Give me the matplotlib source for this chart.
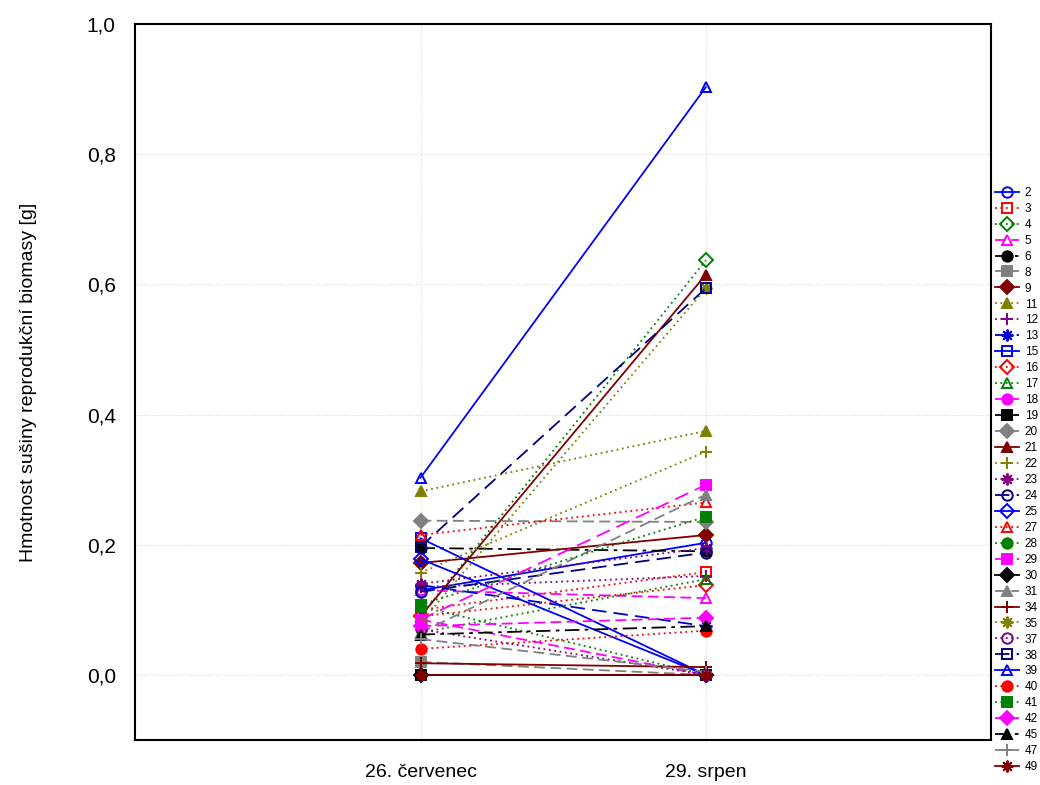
import matplotlib
matplotlib.use("Agg")
import matplotlib.pyplot as plt
from matplotlib.ticker import FuncFormatter

plt.rcParams['font.family'] = ['Liberation Sans', 'DejaVu Sans']

# ---- data ----
dates = ["26. červenec", "29. srpen"]
series_ids = ["2", "3", "4", "5", "6", "8", "9", "11", "12", "13", "15", "16", "17",
              "18", "19", "20", "21", "22", "23", "24", "25", "27", "28", "29", "30",
              "31", "34", "35", "37", "38", "39", "40", "41", "42", "45", "47", "49"]
val_jul = [0.130, 0.100, 0.090, 0.130, 0.195, 0.020, 0.172, 0.282, 0.135, 0.138,
           0.210, 0.090, 0.065, 0.085, 0.000, 0.237, 0.090, 0.157, 0.140, 0.128,
           0.178, 0.215, 0.105, 0.085, 0.000, 0.065, 0.018, 0.080, 0.070, 0.197,
           0.303, 0.040, 0.108, 0.075, 0.062, 0.055, 0.000]
val_aug = [0.203, 0.158, 0.637, 0.118, 0.190, 0.000, 0.215, 0.375, 0.152, 0.075,
           0.000, 0.138, 0.147, 0.000, 0.000, 0.235, 0.615, 0.343, 0.195, 0.188,
           0.000, 0.265, 0.000, 0.292, 0.000, 0.277, 0.012, 0.594, 0.000, 0.594,
           0.903, 0.068, 0.243, 0.088, 0.075, 0.005, 0.000]

# ---- styles (per series) ----
BLUE, RED, GREEN, MAG = '#0000FF', '#FF0000', '#008000', '#FF00FF'
BLK, GRAY, DRED, OLIVE = '#000000', '#808080', '#800000', '#808000'
PURP, NAVY, MBLUE = '#800080', '#000080', '#0000CD'
AST = (8, 2, 0)
DOT = (0, (1, 2))
DASH = (0, (6, 3))
LDASH = (0, (8, 4))
DDOT = (0, (8, 3, 2, 3))
SOLID = '-'
styles = {
    "2": (BLUE, 'o', False, SOLID), "3": (RED, 's', False, DOT),
    "4": (GREEN, 'D', False, DOT), "5": (MAG, '^', False, DASH),
    "6": (BLK, 'o', True, DDOT), "8": (GRAY, 's', True, DASH),
    "9": (DRED, 'D', True, SOLID), "11": (OLIVE, '^', True, DOT),
    "12": (PURP, '+', True, DOT), "13": (MBLUE, AST, True, LDASH),
    "15": (BLUE, 's', False, SOLID), "16": (RED, 'D', False, DOT),
    "17": (GREEN, '^', False, DOT), "18": (MAG, 'o', True, DASH),
    "19": (BLK, 's', True, DASH), "20": (GRAY, 'D', True, DASH),
    "21": (DRED, '^', True, SOLID), "22": (OLIVE, '+', True, DOT),
    "23": (PURP, AST, True, DOT), "24": (NAVY, 'o', False, LDASH),
    "25": (BLUE, 'D', False, SOLID), "27": (RED, '^', False, DOT),
    "28": (GREEN, 'o', True, DOT), "29": (MAG, 's', True, LDASH),
    "30": (BLK, 'D', True, SOLID), "31": (GRAY, '^', True, DASH),
    "34": (DRED, '+', True, SOLID), "35": (OLIVE, AST, True, DOT),
    "37": (PURP, 'o', False, DOT), "38": (NAVY, 's', False, LDASH),
    "39": (BLUE, '^', False, SOLID), "40": (RED, 'o', True, DOT),
    "41": (GREEN, 's', True, DOT), "42": (MAG, 'D', True, DASH),
    "45": (BLK, '^', True, DDOT), "47": (GRAY, '+', True, DASH),
    "49": (DRED, AST, True, SOLID),
}

fig = plt.figure(figsize=(10.4, 7.85), dpi=100)
ax = fig.add_axes([0.130, 0.0573, 0.823, 0.912])

xpos = [1, 2]
for sid, a, b in zip(series_ids, val_jul, val_aug):
    color, mk, filled, ls = styles[sid]
    ms = 8.5 if mk in ('+', AST) else 7.5
    ax.plot(xpos, [a, b], color=color, linestyle=ls, linewidth=1.3,
            marker=mk, markersize=ms, markeredgewidth=1.4,
            markerfacecolor=(color if filled else 'none'),
            markeredgecolor=color, label=sid)

ax.set_xlim(0, 3)
ax.set_ylim(-0.1, 1.0)
ax.set_xticks(xpos)
ax.set_xticklabels(dates, fontsize=14)
ax.set_yticks([0, 0.2, 0.4, 0.6, 0.8, 1.0])
ax.yaxis.set_major_formatter(FuncFormatter(lambda v, p: f"{v:.1f}".replace('.', ',')))
ax.tick_params(axis='y', labelsize=15, length=0, pad=14)
ax.tick_params(axis='x', length=0, pad=17)
ax.grid(True, color='#d8d8d8', linestyle=(0, (1, 1.5)), linewidth=0.8)
ax.set_axisbelow(True)
for s in ax.spines.values():
    s.set_linewidth(1.5)
ax.set_ylabel("Hmotnost sušiny reprodukční biomasy [g]", fontsize=14, labelpad=36)

leg = fig.legend(loc='upper left', bbox_to_anchor=(0.957, 0.762), frameon=False,
                 fontsize=8.5, handlelength=2.0, handletextpad=0.5,
                 labelspacing=0.335, borderpad=0, borderaxespad=0, markerscale=1.0)

fig.savefig("out.png", dpi=100)
